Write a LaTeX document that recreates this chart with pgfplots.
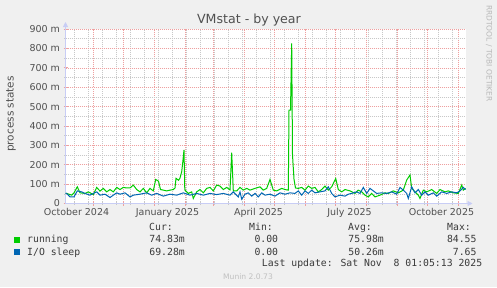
\documentclass[border=0pt]{standalone}
\usepackage{pgfplots}
\usepackage{pgfplotstable}
\pgfplotsset{compat=1.18}
\usepackage{fontspec}
\setmainfont{DejaVu Sans}
\newfontfamily\mono{DejaVu Sans Mono}
\usetikzlibrary{arrows.meta}
\definecolor{bgc}{HTML}{F0F0F0}
\definecolor{txt}{HTML}{505050}
\definecolor{legtxt}{HTML}{3A3A3A}
\definecolor{axc}{RGB}{200,205,245}
\definecolor{mgrid}{RGB}{238,160,160}
\definecolor{ngrid}{RGB}{200,200,200}
\definecolor{runc}{HTML}{00CC00}
\definecolor{ioc}{HTML}{0066B3}
\pgfplotstableread{
day val
0 52
1.2 52
6.2 43
8.5 55
11.8 86
14.5 55
19.5 52
22.8 60
27.8 46
31.2 83
34.5 64
37.8 78
41.2 60
44.5 72
47.8 60
51.2 83
54.5 72
57.8 83
61.2 80
64.5 80
67.8 95
71.2 72
74.5 60
77.8 78
81.2 55
84.5 78
87.8 65
90.2 124
93 115
95 72
97.8 69
101.2 65
104.5 69
107.8 72
109.5 80
110.5 130
113 120
114.5 131
116.2 164
117.2 209
118.5 276
119.3 70
122.8 52
126.2 60
127.8 26
131.2 60
134.5 72
137.8 55
141.2 78
144.5 83
147.8 65
151.2 95
154.5 90
157.8 72
161.2 83
164.5 70
166.2 262
167.8 65
171.2 65
174.5 83
177.8 69
181.2 78
184.5 69
189.5 78
194.5 86
197.8 69
201.2 78
204.5 124
207.8 69
211.2 65
216.2 78
219.5 72
222.8 69
223.5 482
225 482
226.2 826
227 250
228.5 125
230 80
232.8 78
236.2 83
239.5 69
242.8 90
246.2 78
249.5 83
252.8 60
256.2 72
259.5 90
262.8 69
266.2 86
270.2 129
272.8 72
276.2 60
279.5 72
284.5 65
289.5 52
292.8 69
296.2 60
299.5 43
302.8 34
306.2 52
309.5 34
314.5 43
319.5 55
322.8 52
327.8 65
332.8 55
337.8 69
341.2 121
344.5 147
346.2 78
349.5 60
352.8 43
354.5 26
357.8 69
361.2 60
366.2 72
371.2 52
374.5 72
379.5 60
382.8 65
387.8 55
392.8 52
396.2 95
397.8 69
400 78
}\running
\pgfplotstableread{
day val
0 52
1.2 52
4.5 34
8.5 34
11.8 65
16.2 60
19.5 52
24.5 43
27.8 52
31.2 60
34.5 43
39.5 48
44.5 31
47.8 43
51.2 55
54.5 48
59.5 55
64.5 34
67.8 43
74.5 48
81.2 55
86.2 43
91.2 52
97.8 38
104.5 48
111.2 43
117.8 55
124.5 43
131.2 52
137.8 43
144.5 52
151.2 46
157.8 52
164.5 43
167.8 60
172.8 34
174.5 60
176.2 22
179.5 48
182.8 55
186.2 38
189.5 52
192.8 34
196.2 55
199.5 43
204.5 48
209.5 38
214.5 55
219.5 48
224.5 55
229.5 52
232.8 65
236.2 43
239.5 65
242.8 52
246.2 69
249.5 55
254.5 60
259.5 65
262.8 86
266.2 52
269.5 34
274.5 43
279.5 38
282.8 48
286.2 52
291.2 60
294.5 52
297.8 83
301.2 52
304.5 78
307.8 65
311.2 52
316.2 55
321.2 52
326.2 60
331.2 48
334.5 83
337.8 69
341.2 52
342.8 26
346.2 86
349.5 55
352.8 72
356.2 43
359.5 60
362.8 43
367.8 55
371.2 38
376.2 60
381.2 52
386.2 60
391.2 55
394.5 65
397.8 83
400 72
}\iosleep
\begin{document}
\begin{tikzpicture}[x=1pt,y=1pt]
\fill[bgc] (0,0) rectangle (497,287);
\begin{axis}[
  at={(65.5pt,83.5pt)}, anchor=south west,
  scale only axis, width=400pt, height=174.5pt,
  xmin=0, xmax=400, ymin=0, ymax=900,
  axis background/.style={fill=white},
  axis x line=bottom, axis y line=left,
  axis line style={draw=axc, line width=0.8pt},
  x axis line style={-{Triangle[length=5pt,width=5pt]}, shorten >=-7pt},
  y axis line style={-{Triangle[length=5pt,width=5pt]}, shorten >=-7pt},
  xtick={28,58,89,120,148,179,209,240,270,301,332,362,393},
  xticklabels={},
  minor xtick={9,23,37,51,65,79,93,107,121,135,149,163,177,191,205,219,233,247,261,275,289,303,317,331,345,359,373,387},
  extra x ticks={11,102,193,284,376},
  extra x tick labels={October 2024,January 2025,April 2025,July 2025,October 2025},
  extra x tick style={grid=none, major tick length=0pt, xticklabel style={yshift=-1pt}},
  ytick={0,100,200,300,400,500,600,700,800,900},
  yticklabels={0\hspace{6.5pt},100 m,200 m,300 m,400 m,500 m,600 m,700 m,800 m,900 m},
  minor ytick={50,150,250,350,450,550,650,750,850},
  grid=both,
  major grid style={draw=mgrid, line width=0.5pt, dash pattern=on 1pt off 1pt},
  minor grid style={draw=ngrid, line width=0.5pt, dash pattern=on 1pt off 1pt},
  tick align=center,
  major tick length=4pt, minor tick length=3pt,
  major tick style={draw=mgrid, line width=0.6pt},
  minor tick style={draw=ngrid, line width=0.6pt},
  ticklabel style={font=\fontsize{9.5}{11}\selectfont, text=txt},
  clip=false,
]
\addplot[runc, line width=1pt] table[x=day,y=val] {\running};
\addplot[ioc, line width=1pt] table[x=day,y=val] {\iosleep};
\end{axis}
% title
\node[anchor=base, font=\fontsize{12.6}{15}\selectfont, text=txt] at (249,263) {VMstat - by year};
% y label
\node[rotate=90, font=\fontsize{10.5}{12}\selectfont, text=txt] at (11,173) {process states};
% watermark
\node[rotate=-90, font=\fontsize{7.5}{9}\selectfont, text={rgb,255:red,185;green,185;blue,185}] at (489,233.5) {RRDTOOL / TOBI OETIKER};
% legend
\begin{scope}[every node/.style={font=\mono\fontsize{9.8}{11}\selectfont, text=legtxt, inner sep=0pt}]
\node[anchor=base west] at (149,56.3) {Cur:};
\node[anchor=base west] at (249,56.3) {Min:};
\node[anchor=base west] at (348,56.3) {Avg:};
\node[anchor=base west] at (447,56.3) {Max:};
\fill[runc] (14,44.3) rectangle (20,50.3);
\node[anchor=base west] at (27,44.2) {running};
\node[anchor=base east] at (185,44.2) {74.83m};
\node[anchor=base east] at (278.3,44.2) {0.00};
\node[anchor=base east] at (384,44.2) {75.98m};
\node[anchor=base east] at (476.7,44.2) {84.55};
\fill[ioc] (14,32) rectangle (20,38);
\node[anchor=base west] at (27,32) {I/O sleep};
\node[anchor=base east] at (185,32) {69.28m};
\node[anchor=base east] at (278.3,32) {0.00};
\node[anchor=base east] at (384,32) {50.26m};
\node[anchor=base east] at (476.7,32) {7.65};
\node[anchor=base west] at (261.7,20.7) {Last update: Sat Nov\ \ 8 01:05:13 2025};
\end{scope}
\node[anchor=base, font=\fontsize{7.6}{9}\selectfont, text={rgb,255:red,192;green,192;blue,192}] at (248,8) {Munin 2.0.73};
\pgfresetboundingbox
\useasboundingbox (0,0) rectangle (497,287);
\end{tikzpicture}
\end{document}
